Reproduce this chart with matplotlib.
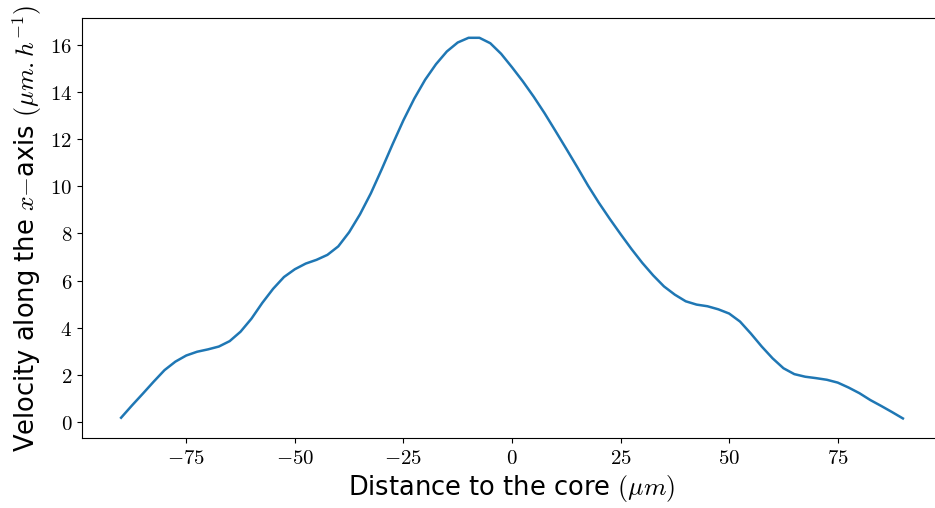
import matplotlib
matplotlib.use("Agg")
import matplotlib.pyplot as plt

plt.rcParams["mathtext.fontset"] = "cm"
plt.rcParams["font.family"] = ["DejaVu Sans"]

# Distance to the core (um), sampled every 2.5 um
distance = [-90, -87.5, -85, -82.5, -80, -77.5, -75, -72.5, -70, -67.5,
            -65, -62.5, -60, -57.5, -55, -52.5, -50, -47.5, -45, -42.5,
            -40, -37.5, -35, -32.5, -30, -27.5, -25, -22.5, -20, -17.5,
            -15, -12.5, -10, -7.5, -5, -2.5, 0, 2.5, 5, 7.5,
            10, 12.5, 15, 17.5, 20, 22.5, 25, 27.5, 30, 32.5,
            35, 37.5, 40, 42.5, 45, 47.5, 50, 52.5, 55, 57.5,
            60, 62.5, 65, 67.5, 70, 72.5, 75, 77.5, 80, 82.5,
            85, 87.5, 90]

# Mean velocity along the x-axis (um/h)
velocity = [0.18, 0.70, 1.20, 1.71, 2.20, 2.56, 2.82, 2.98, 3.08, 3.20,
            3.43, 3.83, 4.38, 5.05, 5.65, 6.15, 6.48, 6.72, 6.88, 7.09,
            7.45, 8.05, 8.81, 9.70, 10.72, 11.78, 12.80, 13.72, 14.52, 15.18,
            15.72, 16.10, 16.30, 16.30, 16.07, 15.62, 15.05, 14.45, 13.80, 13.10,
            12.35, 11.59, 10.82, 10.03, 9.30, 8.62, 7.97, 7.34, 6.75, 6.22,
            5.75, 5.40, 5.12, 4.98, 4.91, 4.78, 4.60, 4.26, 3.75, 3.20,
            2.70, 2.28, 2.03, 1.92, 1.86, 1.79, 1.67, 1.46, 1.22, 0.93,
            0.68, 0.42, 0.15]

xticks = [-75, -50, -25, 0, 25, 50, 75]
yticks = [0, 2, 4, 6, 8, 10, 12, 14, 16]

fig = plt.figure(figsize=(9.35, 5.08), dpi=100)
ax = fig.add_axes([82 / 935, 70 / 508, 860 / 935, 420 / 508])
ax.plot(distance, velocity, color="#1f77b4", linewidth=1.8)

ax.set_xlim(-99, 99)
ax.set_ylim(-0.68, 17.14)
ax.set_xticks(xticks)
ax.set_xticklabels([f"${t}$" for t in xticks], fontsize=15)
ax.set_yticks(yticks)
ax.set_yticklabels([f"${t}$" for t in yticks], fontsize=15)

ax.set_xlabel(r"Distance to the core $(\mu m)$", fontsize=18.5)
ax.set_ylabel(r"Velocity along the $x$$-$axis $(\mu m.h^{-1})$", fontsize=18.5)

fig.savefig("out.png", dpi=100)
